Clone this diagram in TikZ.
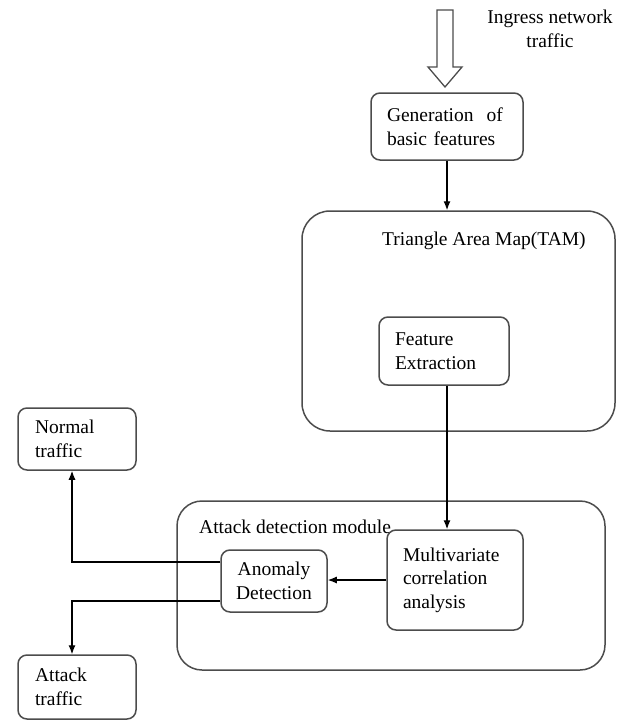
\documentclass[tikz,border=0pt]{standalone}
\usepackage{fontspec}
\setmainfont{Liberation Serif}
\usetikzlibrary{arrows.meta}

\begin{document}
\begin{tikzpicture}[x=1pt,y=-1pt,>={Latex[length=9pt,width=7pt]},every node/.style={font=\fontsize{19.5}{23.5}\selectfont},box/.style={draw=black!70,line width=1.5pt,rounded corners=9pt,inner sep=0pt,align=left},frame/.style={draw=black!70,line width=1.5pt,rounded corners=28pt,inner sep=0pt},link/.style={->,line width=1.2pt}]
\useasboundingbox (0,0) rectangle (623,720);
% input
\draw[black!70,line width=1.3pt] (437,10)--(453,10)--(453,67)--(462,67)--(445,87)--(428,67)--(437,67)--cycle;
\node[align=center,inner sep=0pt] (ingress) at (550,29) {Ingress network\\traffic};
\node[box,minimum width=152pt,minimum height=67pt,text width=120pt] (gen) at (447,126.5) {Generation\ \ of\\basic features};
% TAM
\node[frame,minimum width=313pt,minimum height=220pt] (tam) at (458.5,321) {};
\node[anchor=west,inner sep=0pt] (tamlabel) at (382,241) {Triangle Area Map(TAM)};
\node[box,minimum width=130pt,minimum height=68pt,text width=98pt] (feat) at (444,351) {Feature\\Extraction};
% detection
\node[frame,rounded corners=25pt,minimum width=428pt,minimum height=169pt] (adm) at (391,585.5) {};
\node[anchor=west,inner sep=0pt] (admlabel) at (199,527) {Attack detection module};
\node[box,minimum width=136pt,minimum height=100pt,text width=104pt] (mv) at (455,580) {Multivariate\\correlation\\analysis};
\node[box,align=center,minimum width=106pt,minimum height=62pt] (ad) at (274,581) {Anomaly\\Detection};
% outputs
\node[box,minimum width=118pt,minimum height=62pt,text width=84pt] (normal) at (77,439) {Normal\\traffic};
\node[box,minimum width=118pt,minimum height=64pt,text width=84pt] (attack) at (77,687) {Attack\\traffic};
\draw[link] (gen.south) -- (gen.south |- tam.north);
\draw[link] ([xshift=3pt]feat.south) -- ([xshift=3pt]feat.south |- mv.north);
\draw[link] (mv.west) -- (mv.west -| ad.east);
\draw[link] ([yshift=19pt]ad.west) -| ([xshift=-5pt]normal.south);
\draw[link] ([yshift=-20pt]ad.west) -| ([xshift=-5pt]attack.north);
\end{tikzpicture}
\end{document}
